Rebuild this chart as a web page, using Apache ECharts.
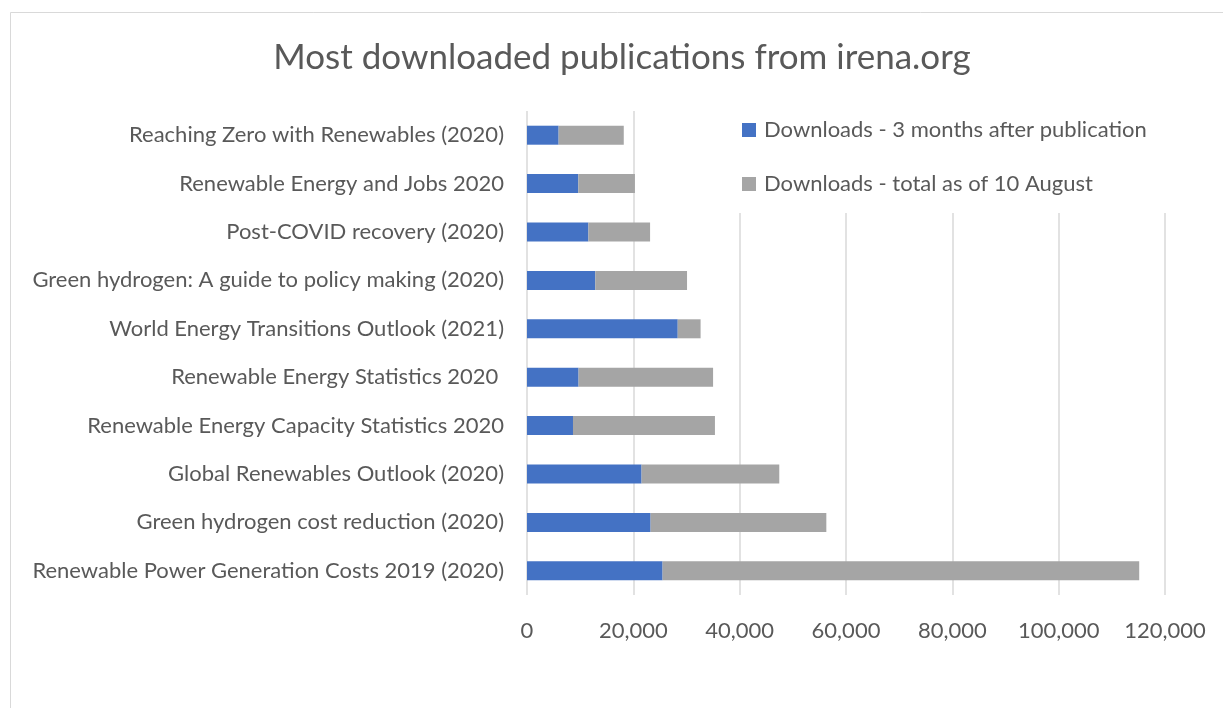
<!DOCTYPE html>
<html>
<head>
<meta charset="utf-8">
<script src="https://cdn.jsdelivr.net/npm/echarts@6/dist/echarts.min.js"></script>
<style>
html,body{margin:0;padding:0;background:#fff;}
#chart{width:1223px;height:708px;}
</style>
</head>
<body>
<div id="chart"></div>
<script>
const categories = [
  "Reaching Zero with Renewables (2020)",
  "Renewable Energy and Jobs 2020",
  "Post-COVID recovery (2020)",
  "Green hydrogen: A guide to policy making (2020)",
  "World Energy Transitions Outlook (2021)",
  "Renewable Energy Statistics 2020 ",
  "Renewable Energy Capacity Statistics 2020",
  "Global Renewables Outlook (2020)",
  "Green hydrogen cost reduction (2020)",
  "Renewable Power Generation Costs 2019 (2020)"
];
const downloads3Months = [5950, 9650, 11550, 12850, 28350, 9700, 8650, 21550, 23250, 25500];
const downloadsTotal   = [18200, 20300, 23150, 30100, 32650, 35000, 35350, 47450, 56300, 115150];
const seriesNames = ["Downloads - 3 months after publication", "Downloads - total as of 10 August"];
const xTicks = [0, 20000, 40000, 60000, 80000, 100000, 120000];

// stacked remainder so the grey bar ends at the total
const remainder = downloadsTotal.map((t, i) => t - downloads3Months[i]);

const FONT = "Lato";
const TXT = "#595959";
const chart = echarts.init(document.getElementById('chart'));
chart.setOption({
  animation: false,
  backgroundColor: '#fff',
  title: {
    text: "Most downloaded publications from irena.org",
    left: 622, top: 40, padding: 0, textAlign: 'center',
    textStyle: {fontFamily: FONT, fontSize: 35, fontWeight: 'normal', color: TXT}
  },
  graphic: [{
    type: 'rect', shape: {x: 10.5, y: 12.5, width: 1400, height: 900},
    style: {fill: 'none', stroke: '#d9d9d9', lineWidth: 1}, silent: true
  }],
  legend: {
    orient: 'vertical', left: 736, top: 106,
    padding: [13, 30, 18, 6],
    itemWidth: 14, itemHeight: 14, itemGap: 32, itemStyle: {borderWidth: 0},
    backgroundColor: '#fff', icon: 'rect',
    textStyle: {fontFamily: FONT, fontSize: 22, color: TXT, padding: [0, 0, 0, 3]},
    data: seriesNames
  },
  grid: {left: 527, top: 111, width: 638, height: 484, containLabel: false},
  xAxis: {
    type: 'value', min: xTicks[0], max: xTicks[xTicks.length - 1], interval: xTicks[1] - xTicks[0],
    axisLine: {show: false}, axisTick: {show: false},
    splitLine: {lineStyle: {color: '#d9d9d9', width: 1.5}},
    axisLabel: {
      fontFamily: FONT, fontSize: 22, color: TXT, margin: 25,
      formatter: v => v.toLocaleString('en-US')
    }
  },
  yAxis: {
    type: 'category', data: categories, inverse: true,
    axisLine: {show: false}, axisTick: {show: false},
    axisLabel: {fontFamily: FONT, fontSize: 22, color: TXT, margin: 23}
  },
  series: [
    {name: seriesNames[0], type: 'bar', stack: 'a', data: downloads3Months, barWidth: 19,
     itemStyle: {color: '#4472C4'}},
    {name: seriesNames[1], type: 'bar', stack: 'a', data: remainder, barWidth: 19,
     itemStyle: {color: '#A5A5A5'}}
  ]
});
</script>
</body>
</html>
